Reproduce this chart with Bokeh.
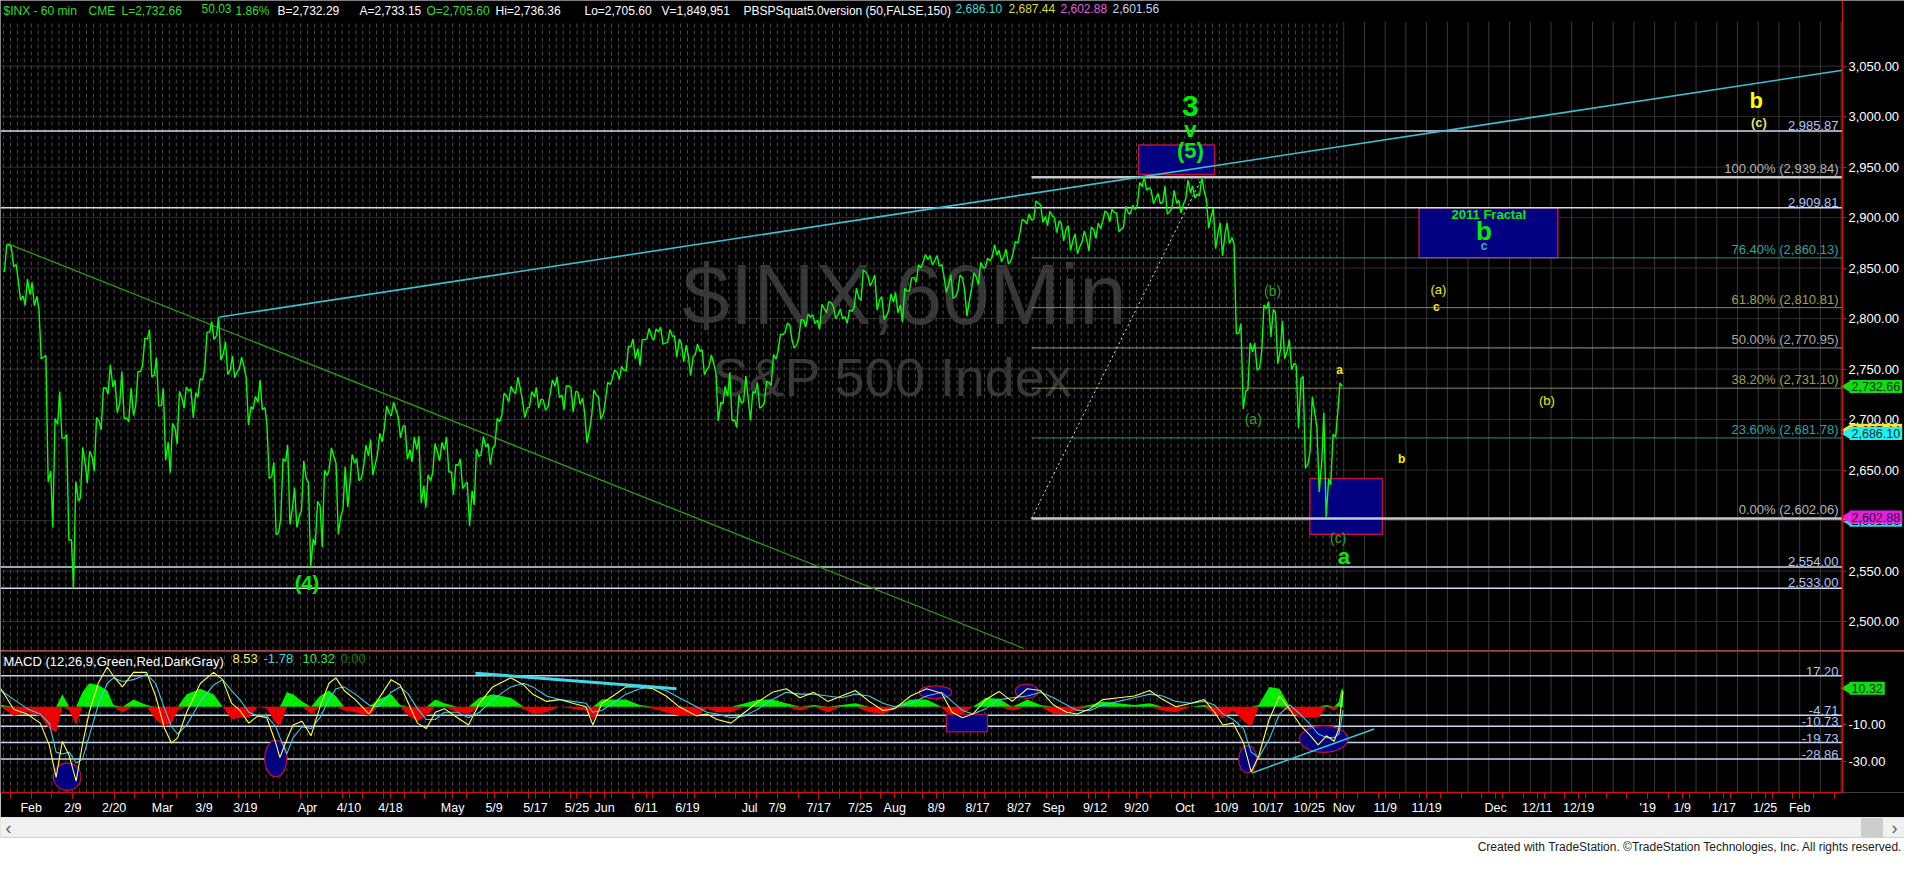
import numpy as np
from bokeh.plotting import figure
from bokeh.models import Range1d, FixedTicker, NumeralTickFormatter, Label, LinearAxis
from bokeh.layouts import column
from bokeh.embed import file_html
from bokeh.resources import INLINE

FONT = "Liberation Sans"

# ---------------- calendar ----------------
HOLIDAYS = ["2018-02-19", "2018-03-30", "2018-05-28", "2018-07-04", "2018-09-03"]
FIRST_SESSION = "2018-01-26"
BASE_DATE = "2018-02-01"

# ---------------- daily price data (high / low / close), Jan 26 .. Oct 31 2018 ----------------
high = [
    2872.87, 2870.62, 2837.75, 2839.26,
    2835.96, 2808.92, 2763.39, 2701.04, 2727.67, 2685.27, 2638.67, 2672.61, 2668.84, 2702.10,
    2731.51, 2754.42, 2739.14, 2747.75, 2731.26, 2747.76, 2780.64, 2789.15, 2761.52,
    2730.89, 2696.25, 2728.09, 2732.08, 2730.60, 2740.45, 2786.57, 2796.98, 2801.90, 2777.11,
    2763.03, 2761.85, 2741.38, 2722.99, 2739.14, 2695.68, 2657.67, 2661.36, 2674.78, 2632.65, 2659.07,
    2638.30, 2619.14, 2649.86, 2672.08, 2656.88, 2653.55, 2665.45, 2661.43, 2674.72, 2680.26,
    2686.49, 2713.34, 2717.49, 2702.84, 2693.94, 2682.86, 2683.55, 2645.30, 2676.48, 2677.35, 2682.92,
    2655.27, 2660.87, 2637.91, 2670.93, 2683.35, 2676.34, 2701.27, 2726.11, 2732.86, 2742.10, 2718.59,
    2727.76, 2731.96, 2719.50, 2739.19, 2742.24, 2733.33, 2731.97, 2727.36, 2706.00, 2729.34, 2722.50,
    2736.93, 2749.16, 2752.61, 2772.39, 2779.90, 2779.39, 2790.21, 2789.80, 2791.47, 2789.06, 2782.81,
    2774.99, 2763.07, 2774.86, 2769.28, 2764.17, 2746.09, 2732.91, 2746.82, 2724.34, 2743.26,
    2727.26, 2736.58, 2737.83, 2764.41, 2784.65, 2795.58, 2779.22, 2799.22, 2804.53, 2803.91, 2814.19,
    2816.76, 2812.05, 2809.70, 2808.61, 2829.99, 2848.03, 2842.43, 2843.17, 2821.74, 2824.46,
    2825.83, 2829.91, 2840.38, 2853.29, 2863.43, 2862.44, 2862.48, 2842.20, 2843.40, 2843.11, 2827.95,
    2845.39, 2855.63, 2859.76, 2873.23, 2867.54, 2868.78, 2876.16, 2898.25, 2903.77, 2916.50, 2912.46, 2906.32,
    2900.18, 2894.21, 2892.05, 2883.81, 2886.93, 2890.74, 2894.65, 2906.76, 2908.30, 2904.65,
    2911.17, 2912.36, 2934.80, 2940.91, 2927.22, 2923.95, 2931.15, 2927.11, 2916.98,
    2937.06, 2931.42, 2939.86, 2918.09, 2909.64, 2894.83, 2894.70, 2874.02, 2795.14, 2775.77, 2775.99,
    2813.46, 2816.94, 2806.04, 2797.77, 2778.94, 2753.59, 2742.59, 2722.70, 2692.38, 2706.85, 2685.43, 2736.36,
]
low = [
    2846.18, 2851.48, 2818.27, 2813.04,
    2812.70, 2759.97, 2638.17, 2593.07, 2681.33, 2580.56, 2532.69, 2622.45, 2637.08, 2648.87,
    2689.82, 2725.11, 2706.76, 2701.29, 2697.77, 2713.74, 2753.78, 2742.10, 2713.54,
    2659.65, 2647.32, 2675.75, 2711.26, 2701.74, 2721.92, 2751.54, 2779.26, 2758.68, 2744.38,
    2741.47, 2749.97, 2694.59, 2710.05, 2709.79, 2641.59, 2585.89, 2601.81, 2596.12, 2593.06, 2609.72,
    2553.80, 2575.49, 2573.61, 2649.58, 2586.27, 2610.79, 2635.78, 2639.25, 2653.83, 2645.05,
    2665.16, 2692.05, 2703.63, 2681.90, 2660.61, 2657.99, 2617.32, 2612.67, 2647.16, 2659.01, 2648.04,
    2625.41, 2631.70, 2594.62, 2615.32, 2664.70, 2655.20, 2674.14, 2704.54, 2717.45, 2725.47, 2701.91,
    2712.17, 2711.36, 2709.18, 2725.70, 2721.88, 2709.54, 2707.38, 2714.99, 2676.81, 2702.97, 2700.68,
    2718.70, 2740.54, 2739.51, 2748.46, 2760.16, 2753.25, 2780.17, 2778.78, 2774.65, 2776.52, 2761.73,
    2757.12, 2743.39, 2763.91, 2744.39, 2752.68, 2698.67, 2715.60, 2699.38, 2691.99, 2718.03,
    2698.95, 2711.16, 2716.02, 2733.52, 2768.06, 2786.24, 2770.77, 2781.53, 2791.69, 2794.99, 2789.24,
    2805.89, 2799.77, 2800.01, 2795.14, 2811.12, 2817.73, 2832.26, 2808.34, 2799.11, 2808.06,
    2805.85, 2796.34, 2827.37, 2835.98, 2855.92, 2853.09, 2851.98, 2825.81, 2819.88, 2826.58, 2802.49,
    2829.15, 2833.73, 2850.62, 2861.32, 2856.05, 2854.03, 2864.12, 2884.69, 2893.50, 2898.40, 2895.22, 2891.73,
    2885.13, 2876.92, 2867.29, 2864.12, 2875.94, 2866.78, 2879.20, 2896.39, 2895.77, 2886.16,
    2890.43, 2903.82, 2912.63, 2927.11, 2913.77, 2913.70, 2903.28, 2909.27, 2904.56,
    2917.91, 2919.37, 2921.36, 2889.45, 2869.29, 2862.08, 2874.27, 2784.86, 2710.51, 2729.44, 2749.03,
    2766.91, 2781.81, 2755.18, 2760.27, 2749.22, 2691.43, 2651.89, 2667.84, 2628.16, 2603.54, 2635.34, 2705.60,
]
close = [
    2872.87, 2853.53, 2822.43, 2823.81,
    2821.98, 2762.13, 2648.94, 2695.14, 2681.66, 2581.00, 2619.55, 2656.00, 2662.94, 2698.63,
    2731.20, 2732.22, 2716.26, 2701.33, 2703.96, 2747.30, 2779.60, 2744.28, 2713.83,
    2677.67, 2691.25, 2720.94, 2728.12, 2726.80, 2738.97, 2786.57, 2783.02, 2765.31, 2749.48,
    2747.33, 2752.01, 2712.92, 2716.94, 2711.93, 2643.69, 2588.26, 2658.55, 2612.62, 2605.00, 2640.87,
    2581.88, 2614.45, 2644.69, 2662.84, 2604.47, 2613.16, 2656.87, 2642.19, 2663.99, 2656.30,
    2677.84, 2706.39, 2708.64, 2693.13, 2670.14, 2670.29, 2634.56, 2639.40, 2666.94, 2669.91, 2648.05,
    2654.80, 2635.67, 2629.73, 2663.42, 2672.63, 2671.92, 2697.79, 2723.07, 2727.72, 2730.13, 2711.45,
    2722.46, 2720.13, 2712.97, 2733.01, 2724.44, 2733.29, 2727.76, 2721.33, 2689.86, 2724.01, 2705.27,
    2734.62, 2746.87, 2748.80, 2772.35, 2770.37, 2779.03, 2782.00, 2786.85, 2775.63, 2782.49, 2779.66,
    2773.75, 2762.59, 2767.32, 2749.76, 2754.88, 2717.07, 2723.06, 2699.63, 2716.31, 2718.37,
    2726.71, 2713.22, 2736.61, 2759.82, 2784.17, 2793.84, 2774.02, 2798.29, 2801.31, 2798.43, 2809.55,
    2815.62, 2804.49, 2801.83, 2806.98, 2820.40, 2846.07, 2837.44, 2818.82, 2802.60, 2816.29,
    2813.36, 2827.22, 2840.35, 2850.40, 2858.45, 2857.70, 2853.58, 2833.28, 2821.93, 2839.96, 2818.37,
    2840.69, 2850.13, 2857.05, 2862.96, 2861.82, 2856.98, 2874.69, 2896.74, 2897.52, 2914.04, 2901.13, 2901.52,
    2896.72, 2888.60, 2878.05, 2871.68, 2877.13, 2887.89, 2888.92, 2904.18, 2904.98, 2888.80,
    2904.31, 2907.95, 2930.75, 2929.67, 2919.37, 2915.56, 2905.97, 2914.00, 2913.98,
    2924.59, 2923.43, 2925.51, 2901.61, 2885.57, 2884.43, 2880.34, 2785.68, 2728.37, 2767.13, 2750.79,
    2809.92, 2809.21, 2768.78, 2767.78, 2755.88, 2740.69, 2656.10, 2705.57, 2658.69, 2641.25, 2682.63, 2732.66,
]

# ---------------- MACD (12,26,9) (session units) ----------------
macd_x = [
    -4.4, -2.5, -0.6, 1.3, 2.6, 3.6, 4.5, 5.5, 6.5, 7.4,
    8.4, 9.7, 11.0, 11.9, 13.2, 14.8, 16.7, 18.0, 19.3, 20.3,
    21.2, 22.5, 24.5, 26.4, 27.7, 29.0, 30.2, 31.5, 32.8, 34.1,
    35.4, 36.0, 37.0, 37.9, 39.2, 40.5, 41.8, 43.1, 44.1, 45.3,
    46.9, 48.9, 50.2, 52.1, 53.4, 54.6, 55.9, 57.2, 58.5, 59.8,
    61.7, 63.3, 64.9, 66.8, 69.4, 71.3, 72.6, 74.6, 76.5, 78.4,
    80.3, 81.3, 82.6, 84.2, 86.1, 88.1, 90.0, 91.9, 93.8, 96.3,
    97.8, 99.3, 101.3, 103.3, 105.3, 107.3, 109.3, 111.3, 113.3, 115.3,
    117.3, 119.3, 121.3, 123.3, 125.0, 127.3, 129.6, 131.8, 133.3, 134.8,
    136.3, 138.2, 140.1, 142.0, 144.2, 146.1, 148.0, 149.9, 151.4, 153.3,
    155.1, 157.4, 159.7, 161.9, 163.8, 165.7, 167.9, 169.8, 171.3, 172.5,
    174.0, 175.5, 176.6, 177.7, 179.2, 180.7, 182.2, 183.7, 185.2, 186.3,
    187.5, 188.6, 189.3, 189.6, 189.9,
]
macd_line = [
    10, -1.5, -4, -9, -21, -39, -19, -27, -41, -21,
    -3, 13, 22, 17, 11, 19, 19, 6, -12, -20,
    -17, -3, 13, 19, 15, 2, -2, -9, -5, -6,
    -20, -28, -18, -10, -8, -16, 0, 13, 16, 9,
    4, -4, 4, 15, 12, 2, -9, -12, -3, -1,
    -6, -10, 2, 11, 16, 12, 7, 3, 4, 2,
    0, -10, 2, 6, 11, 11, 10, 6, 0, -5,
    -4, -7, -9, -3, 3, 8, 10, 5, 8, 3,
    6, 9, 3, -2, -1, 6, 10, 7.5, -3, -6,
    -4, 4, 8.5, 3, 10, 9, 1, -3, -4, -1,
    4, 5, 6, 9, 4, 0, 2, 4, -3, -10,
    -9, -20, -36, -27, -7, 6, -1.5, -10, -16, -21,
    -16, -19, -12, 0, 8.53,
]
macd_signal = [
    9, 4, -1, -4, -9, -25, -26, -25, -31, -29,
    -16, 1, 13, 16, 14, 15, 18, 13, -1, -11,
    -15, -10, 3, 12, 15, 9, 4, -3, -5, -5,
    -11, -17, -26, -17, -11, -12, -6, 4, 10, 11,
    7, 1, 0, 8, 11, 7, -1, -7, -7, -3,
    -3, -6, -3, 4, 11, 13, 11, 6, 4, 3,
    2, -3, -2, 2, 7, 10, 11, 9, 5, 0,
    -3, -4, -6, -5, -1, 4, 8, 7, 7, 6,
    5, 7, 6, 2, 0, 2, 6, 8, 3, -2,
    -4, -1, 4, 5, 6, 8, 5, 1, -2, -2,
    1, 3, 5, 7, 6, 3, 2, 3, 1, -4,
    -7, -12, -25, -28, -18, -4, 1, -4, -10, -15,
    -17, -17, -15, -9, -1.78,
]
macd_hist = [
    1, -5, -3, -5, -12, -14, 7, -2, -10, 8,
    13, 12, 9, 1, -3, 4, 1, -7, -11, -9,
    -2, 7, 10, 7, 0, -7, -6, -6, 0, -1,
    -9, -11, 8, 7, 3, -4, 6, 9, 6, -2,
    -3, -5, 4, 7, 1, -5, -8, -5, 4, 2,
    -3, -4, 5, 7, 5, -1, -4, -3, 0, -1,
    -2, -7, 4, 4, 4, 1, -1, -3, -5, -5,
    -1, -3, -3, 2, 4, 4, 2, -2, 1, -3,
    1, 2, -3, -4, -1, 4, 4, -0.5, -6, -4,
    0, 5, 4.5, -2, 4, 1, -4, -4, -2, 1,
    3, 2, 1, 2, -2, -3, 0, 1, -4, -6,
    -2, -8, -11, 1, 11, 10, -2.5, -6, -6, -6,
    1, -2, 3, 9, 10.32,
]

# ---------------- tick labels ----------------
tick_dates = ["2018-02-01", "2018-02-09", "2018-02-20", "2018-03-01", "2018-03-09", "2018-03-19",
              "2018-04-02", "2018-04-10", "2018-04-18", "2018-05-01", "2018-05-09", "2018-05-17",
              "2018-05-25", "2018-06-01", "2018-06-11", "2018-06-19", "2018-07-02", "2018-07-09",
              "2018-07-17", "2018-07-25", "2018-08-01", "2018-08-09", "2018-08-17", "2018-08-27",
              "2018-09-04", "2018-09-12", "2018-09-20", "2018-10-01", "2018-10-09", "2018-10-17",
              "2018-10-25", "2018-11-01", "2018-11-09", "2018-11-19", "2018-12-03", "2018-12-11",
              "2018-12-19", "2019-01-02", "2019-01-09", "2019-01-17", "2019-01-25", "2019-02-01"]
tick_text = ["Feb", "2/9", "2/20", "Mar", "3/9", "3/19", "Apr", "4/10", "4/18", "May", "5/9", "5/17",
             "5/25", "Jun", "6/11", "6/19", "Jul", "7/9", "7/17", "7/25", "Aug", "8/9", "8/17", "8/27",
             "Sep", "9/12", "9/20", "Oct", "10/9", "10/17", "10/25", "Nov", "11/9", "11/19", "Dec",
             "12/11", "12/19", "'19", "1/9", "1/17", "1/25", "Feb"]
price_ticks = [2500, 2550, 2600, 2650, 2700, 2750, 2800, 2850, 2900, 2950, 3000, 3050]

# ---------------- analyst levels ----------------
fib_pct = ["100.00%", "76.40%", "61.80%", "50.00%", "38.20%", "23.60%", "0.00%"]
fib_val = [2939.84, 2860.13, 2810.81, 2770.95, 2731.10, 2681.78, 2602.06]
fib_col = ["#c8c8c8", "#2a8c8c", "#8c8c4c", "#9a9a9a", "#8c8c4c", "#2a8c8c", "#c8c8c8"]
fib_txt = ["#b4b4b4", "#33a0a0", "#a0a050", "#a8a8a8", "#a0a050", "#33a0a0", "#b4b4b4"]
fib_w = [2.5, 1, 1, 1, 1, 1, 2.5]
level_val = [2985.87, 2909.81, 2554.00, 2533.00]
macd_levels = [17.20, -4.71, -10.73, -19.73, -28.86]

# ---------------- geometry ----------------
X0, X1 = -4.45, 262.2            # plotting area (left of the price scale)
PLOT_W, AXIS_W = 1842, 62
X1E = X1 + AXIS_W * (X1 - X0) / PLOT_W   # frame continues under the price scale band
PY0, PY1 = 2471.3, 3115.0
MY0, MY1 = -47.3, 31.1
FULL_W = PLOT_W + AXIS_W
PX_X = (X1 - X0) / PLOT_W        # sessions per pixel

sessions = np.busday_offset(FIRST_SESSION, np.arange(len(close)), roll="forward", holidays=HOLIDAYS)
sx = np.busday_count(BASE_DATE, sessions, holidays=HOLIDAYS).astype(float)
tick_x = np.busday_count(BASE_DATE, np.array(tick_dates, dtype="datetime64[D]"), holidays=HOLIDAYS)

# hourly-like path: each session visits its low/high in order, then its close
px, py = [], []
prev = close[0]
for i in range(len(close)):
    a, b = (low[i], high[i]) if close[i] >= prev else (high[i], low[i])
    px += [sx[i] + 0.12, sx[i] + 0.45, sx[i] + 0.82]
    py += [a, b, close[i]]
    prev = close[i]


def lab(fig, x, y, text, color, size=13, bold=False, align="left", baseline="middle",
        xo=0, yo=0, level="annotation", bg=None, pad=0):
    kw = dict(x=x, y=y, text=text, text_color=color, text_font=FONT,
              text_font_size=f"{size}px", text_font_style="bold" if bold else "normal",
              text_align=align, text_baseline=baseline, x_offset=xo, y_offset=yo, level=level)
    if bg is not None:
        kw.update(background_fill_color=bg, padding=pad)
    fig.add_layout(Label(**kw))


def tag(fig, y, text, bg, fg):
    fig.scatter(x=[X1 + 4.5 * PX_X], y=[y], marker="triangle", angle=np.pi / 2, size=11,
                fill_color=bg, line_color=None)
    lab(fig, X1, y, text, fg, size=12.5, xo=7, bg=bg, pad=2)


def vgrid(fig, y0, y1):
    past = np.arange(-4, 190)
    fut = np.arange(190, 263, 3)
    fig.segment(x0=past, y0=y0, x1=past, y1=y1, line_color="#4a4a4a", line_width=1, line_dash="4 3")
    fig.segment(x0=fut, y0=y0, x1=fut, y1=y1, line_color="#3a3a3a", line_width=1)


def right_axis(fig, ticks, fmt):
    ax = LinearAxis(ticker=FixedTicker(ticks=ticks), formatter=NumeralTickFormatter(format=fmt),
                    fixed_location=X1)
    ax.axis_line_color = RED
    ax.axis_line_width = 1.5
    ax.major_tick_line_color = RED
    ax.minor_tick_line_color = None
    ax.major_tick_out = 4
    ax.major_tick_in = 0
    ax.major_label_standoff = 2
    ax.major_label_text_color = "white"
    ax.major_label_text_font = FONT
    ax.major_label_text_font_size = "13px"
    fig.add_layout(ax, "right")


RED = "#d01010"

# ================= price pane =================
p = figure(frame_width=FULL_W, frame_height=650, x_range=Range1d(X0, X1E), y_range=Range1d(PY0, PY1),
           output_backend="svg", toolbar_location=None, y_axis_location=None, x_axis_location=None,
           min_border=0, background_fill_color="black", border_fill_color="black", outline_line_color=None)
p.grid.visible = False
right_axis(p, price_ticks, "0,0.00")

p.segment(x0=X0, x1=X1, y0=price_ticks, y1=price_ticks, line_color="#2e2e2e", line_width=1)
vgrid(p, PY0, 3094)

# watermark
lab(p, 126.4, 2823.8, "$INX,60Min", "#363636", size=85, align="center", level="underlay")
lab(p, 124.7, 2741.7, "S&P 500 Index", "#363636", size=54, align="center", level="underlay")

# boxes
p.quad(left=[160.3, 200.9, 185.1], right=[171.3, 221.0, 195.6],
       bottom=[2942.7, 2860.13, 2586.4], top=[2971.8, 2909.81, 2641.7],
       fill_color="#000080", line_color="#c0103a", line_width=1.5)

# full-width horizontal levels
for v in level_val:
    p.line([X0, X1], [v, v], line_color="#d4dcf4", line_width=1.5)
    lab(p, X1, v, f"{v:,.2f}", "#b4c4f0", size=13, align="right", baseline="bottom", xo=-4, yo=1)

# fibonacci levels
FIB_START = 144.8
for pct, v, c, tc, w in zip(fib_pct, fib_val, fib_col, fib_txt, fib_w):
    p.line([FIB_START, X1], [v, v], line_color=c, line_width=w)
    lab(p, X1, v, f"{pct} ({v:,.2f})", tc, size=13, align="right", baseline="bottom", xo=-4, yo=1)

# trend lines
p.line([-3.45, 143.7], [2874.3, 2473.3], line_color="#2f9a1a", line_width=1.3)
p.line([27.3, X1], [2801.5, 3046.0], line_color="#3cc0d0", line_width=1.6)
p.line([144.8, 169.4], [2602.06, 2938.3], line_color="#dddddd", line_width=1, line_dash="2 3")

# price
p.line(px, py, line_color="#00ff00", line_width=1.4)

# wave labels
G = "#00ee00"
DG = "#2ea02e"
Y = "#f0f000"
lab(p, 167.8, 3011, "3", G, size=30, bold=True, align="center")
lab(p, 167.8, 2987, "v", G, size=22, bold=True, align="center")
lab(p, 167.8, 2966.5, "(5)", G, size=22, bold=True, align="center")
lab(p, 39.9, 2538.3, "(4)", G, size=20, bold=True, align="center")
lab(p, 179.7, 2827.7, "(b)", DG, size=14, align="center")
lab(p, 176.9, 2700.5, "(a)", DG, size=14, align="center")
lab(p, 189.2, 2583.0, "(c)", DG, size=14, align="center")
lab(p, 190.0, 2564.6, "a", G, size=22, bold=True, align="center")
lab(p, 189.4, 2749.0, "a", Y, size=12, bold=True, align="center")
lab(p, 198.4, 2660.7, "b", Y, size=12, bold=True, align="center")
lab(p, 203.7, 2828.6, "(a)", Y, size=13, align="center")
lab(p, 203.4, 2811.0, "c", Y, size=12, bold=True, align="center")
lab(p, 219.4, 2718.9, "(b)", Y, size=13, align="center")
lab(p, 249.7, 3016.0, "b", "#ffff00", size=22, bold=True, align="center")
lab(p, 250.1, 2993.7, "(c)", "#e8e070", size=13, bold=True, align="center")
lab(p, 211.0, 2903.0, "2011 Fractal", G, size=13, bold=True, align="center")
lab(p, 210.3, 2886.9, "b", G, size=26, bold=True, align="center")
lab(p, 210.3, 2872.3, "c", "#3cb4b4", size=12, bold=True, align="center")

# header
hdr = [("$INX - 60 min", "#33dd33", 3), ("CME", "#33dd33", 88), ("L=2,732.66", "#33dd33", 121),
       ("50.03", "#33dd33", 201), ("1.86%", "#33dd33", 235), ("B=2,732.29", "white", 277),
       ("A=2,733.15", "white", 359), ("O=2,705.60", "#33dd33", 426), ("Hi=2,736.36", "white", 495),
       ("Lo=2,705.60", "white", 584), ("V=1,849,951", "white", 661),
       ("PBSPSquat5.0version (50,FALSE,150)", "white", 743), ("2,686.10", "#33dddd", 955),
       ("2,687.44", "#dddd33", 1008), ("2,602.88", "#e060e0", 1060), ("2,601.56", "#c8d8f0", 1112)]
for t, c, xo in hdr:
    lab(p, X0, PY1, t, c, size=12, baseline="top", xo=xo, yo=-3)

# right-axis price tags
tag(p, 2689.5, "2,687.44", "#e8e840", "#202000")
tag(p, 2686.10, "2,686.10", "#20f0f0", "#003030")
tag(p, 2732.66, "2,732.66", "#10dd10", "#003000")
tag(p, 2600.3, "2,601.56", "#40c8e8", "#003030")
tag(p, 2603.4, "2,602.88", "#e020e0", "#300030")

# ================= MACD pane =================
q = figure(frame_width=FULL_W, frame_height=142, x_range=p.x_range, y_range=Range1d(MY0, MY1),
           output_backend="svg", toolbar_location=None, y_axis_location=None,
           min_border_left=0, min_border_right=0, min_border_top=0, min_border_bottom=24,
           background_fill_color="black", border_fill_color="black", outline_line_color=None)
q.grid.visible = False
right_axis(q, [-30, -10], "0.00")

q.xaxis.ticker = FixedTicker(ticks=[int(t) for t in tick_x], minor_ticks=list(range(-3, 263, 3)))
q.xaxis.major_label_overrides = {int(t): s for t, s in zip(tick_x, tick_text)}
q.xaxis.bounds = (X0, X1)
q.xaxis.axis_line_color = RED
q.xaxis.axis_line_width = 1.5
q.xaxis.major_tick_line_color = RED
q.xaxis.minor_tick_line_color = RED
q.xaxis.major_tick_out = 6
q.xaxis.major_tick_in = 0
q.xaxis.minor_tick_out = 6
q.xaxis.minor_tick_in = 0
q.xaxis.major_label_standoff = 2
q.xaxis.major_label_text_color = "white"
q.xaxis.major_label_text_font = FONT
q.xaxis.major_label_text_font_size = "12.5px"

vgrid(q, MY0, MY1)

for v in macd_levels:
    q.line([X0, X1], [v, v], line_color="#c8d4f0", line_width=1.5)
    lab(q, X1, v, f"{v:.2f}", "#b4c4f0", size=13, align="right", baseline="bottom", xo=-4, yo=0)

hist = np.array(macd_hist, dtype=float)
q.varea(x=macd_x, y1=0, y2=np.where(hist > 0, hist, 0), fill_color="#00ee00")
q.varea(x=macd_x, y1=0, y2=np.where(hist < 0, hist, 0), fill_color="#ee0000")

q.ellipse(x=[5.2, 35.4, 130.9, 144.1, 176.1, 187.1], y=[-38.6, -28.6, 8.1, 8.6, -28.9, -17.8],
          width=[4.0, 3.2, 4.7, 3.3, 2.6, 7.0], height=[15, 20, 7, 8, 15, 14.6],
          fill_color="#000080", line_color="#c0103a", line_width=1.2)
q.quad(left=[132.5], right=[138.4], bottom=[-13.8], top=[-4.1],
       fill_color="#000080", line_color="#c0103a", line_width=1.2)

q.line(macd_x, macd_signal, line_color="#40c8e8", line_width=1.1)
q.line(macd_x, macd_line, line_color="#ffff50", line_width=1.1)

q.line([64.3, 93.4], [18.6, 10.0], line_color="#40d8e8", line_width=3)
q.line([176.7, 194.4], [-36.5, -12.2], line_color="#40c0d8", line_width=1.5)

# pane separator
q.line([X0, X1E], [MY1, MY1], line_color=RED, line_width=3)

mh = [("MACD (12,26,9,Green,Red,DarkGray)", "white", 3), ("8.53", "#f0f050", 232),
      ("-1.78", "#50d0e0", 263), ("10.32", "#40e040", 302), ("0.00", "#108010", 340)]
for t, c, xo in mh:
    lab(q, X0, MY1, t, c, size=13, baseline="top", xo=xo, yo=-3)

tag(q, 10.32, "10.32", "#10dd10", "#003000")

# ================= scrollbar / footer =================
f = figure(width=FULL_W, height=38, x_range=Range1d(0, FULL_W), y_range=Range1d(0, 38),
           output_backend="svg", toolbar_location=None, x_axis_location=None, y_axis_location=None,
           min_border=0, background_fill_color="white", border_fill_color="white", outline_line_color=None)
f.grid.visible = False
f.quad(left=[0], right=[FULL_W], bottom=[18], top=[38], fill_color="#f0f0f0", line_color="#d0d0d0")
f.quad(left=[1861], right=[1882], bottom=[19], top=[37], fill_color="#cdcdcd", line_color="#cdcdcd")
lab(f, 8, 28, "\u2039", "#606060", size=18, align="center")
lab(f, 1894, 28, "\u203a", "#606060", size=18, align="center")
lab(f, 1902, 9, "Created with TradeStation. \u00a9TradeStation Technologies, Inc. All rights reserved.",
    "#202020", size=12, align="right")

layout = column(p, q, f, spacing=0)
open("out.html", "w").write(file_html(layout, INLINE))
